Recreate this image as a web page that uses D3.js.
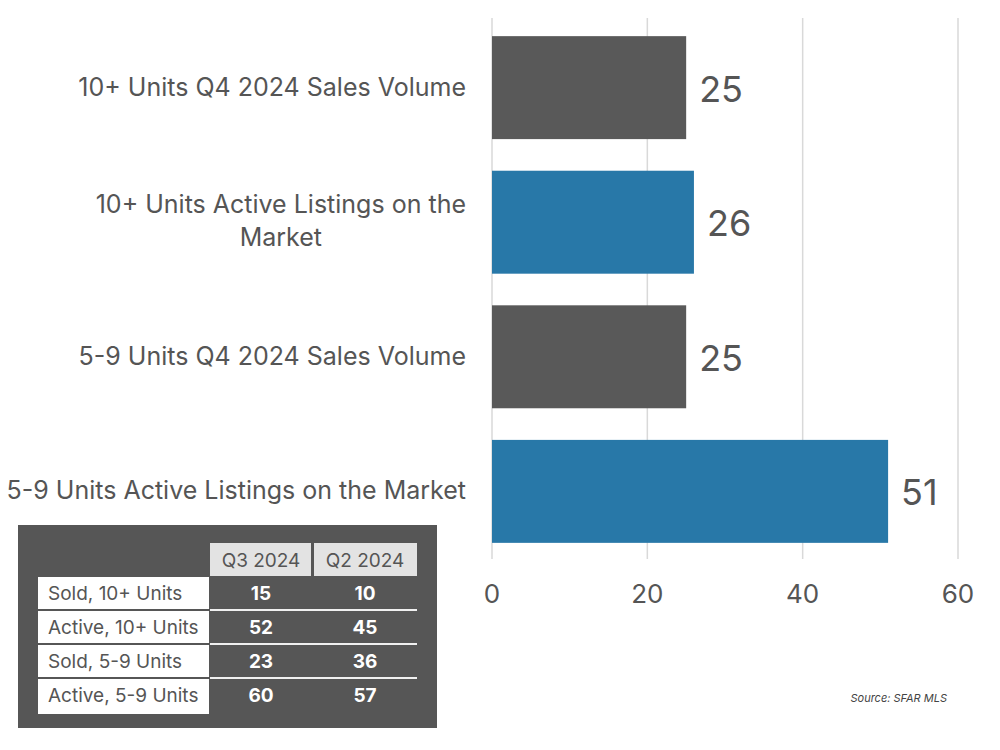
<!DOCTYPE html>
<html>
<head>
<meta charset="utf-8">
<script src="https://cdn.jsdelivr.net/npm/d3@7"></script>
<style>
  body { margin: 0; background: #fff; }
  svg text { font-family: "Inter", "Roboto", sans-serif; }
</style>
</head>
<body>
<svg id="chart" width="1000" height="750"></svg>
<script>
// bar chart data
var categories = [
    ["10+ Units Q4 2024 Sales Volume"],
    ["10+ Units Active Listings on the", "Market"],
    ["5-9 Units Q4 2024 Sales Volume"],
    ["5-9 Units Active Listings on the Market"]
];
var values = [25, 26, 25, 51];
var barColors = ["#595959", "#2878a8", "#595959", "#2878a8"];
var xTicks = [0, 20, 40, 60];

// comparison table data
var tableHeaders = ["Q3 2024", "Q2 2024"];
var tableRows = ["Sold, 10+ Units", "Active, 10+ Units", "Sold, 5-9 Units", "Active, 5-9 Units"];
var q3Values = [15, 52, 23, 60];
var q2Values = [10, 45, 36, 57];

var svg = d3.select("#chart");
var textColor = "#555555";

var x = d3.scaleLinear().domain([0, 60]).range([492, 958]);
var y = d3.scaleBand()
    .domain(d3.range(values.length))
    .range([20, 559])
    .paddingInner(0.235)
    .paddingOuter(0.12);

// gridlines
svg.append("g").selectAll("line")
    .data(xTicks)
    .join("line")
    .attr("x1", function(d) { return x(d); })
    .attr("x2", function(d) { return x(d); })
    .attr("y1", 18)
    .attr("y2", 559)
    .attr("stroke", "#d9d9d9")
    .attr("stroke-width", 1.5);

// tick labels
svg.append("g").selectAll("text")
    .data(xTicks)
    .join("text")
    .attr("x", function(d) { return x(d); })
    .attr("y", 603)
    .attr("text-anchor", "middle")
    .attr("font-size", 26)
    .attr("fill", textColor)
    .text(function(d) { return d; });

// bars
svg.append("g").selectAll("rect")
    .data(values)
    .join("rect")
    .attr("x", x(0))
    .attr("y", function(d, i) { return y(i); })
    .attr("width", function(d) { return x(d) - x(0); })
    .attr("height", y.bandwidth())
    .attr("fill", function(d, i) { return barColors[i]; });

// value labels
svg.append("g").selectAll("text")
    .data(values)
    .join("text")
    .attr("x", function(d) { return x(d) + 13; })
    .attr("y", function(d, i) { return y(i) + y.bandwidth() / 2 + 14; })
    .attr("font-size", 36)
    .attr("fill", textColor)
    .text(function(d) { return d; });

// category labels (wrapped lines centred under the first)
var labels = svg.append("g").selectAll("text")
    .data(categories)
    .join("text")
    .attr("font-size", 25)
    .attr("fill", textColor)
    .attr("text-anchor", function(d) { return d.length > 1 ? "middle" : "end"; })
    .attr("y", function(d, i) {
        var mid = y(i) + y.bandwidth() / 2;
        return mid + 8 - (d.length - 1) * 17;
    });
labels.each(function(d) {
    var t = d3.select(this);
    d.forEach(function(line, k) {
        t.append("tspan")
            .attr("x", 466)
            .attr("dy", k === 0 ? 0 : 33)
            .text(line);
    });
    if (d.length > 1) {
        // centre the block so the longest line ends at 466
        var first = t.select("tspan").node().getComputedTextLength();
        t.selectAll("tspan").attr("x", 466 - first / 2);
    }
});

// table
var tbl = svg.append("g");
tbl.append("rect")
    .attr("x", 18).attr("y", 525)
    .attr("width", 419).attr("height", 203)
    .attr("fill", "#565656");

var colX = [210, 314];
var colW = 102;
tbl.selectAll("rect.hdr")
    .data(tableHeaders)
    .join("rect")
    .attr("class", "hdr")
    .attr("x", function(d, i) { return colX[i]; })
    .attr("y", 543)
    .attr("width", function(d, i) { return i === 0 ? 101 : 103; })
    .attr("height", 33)
    .attr("fill", "#e3e3e3");
tbl.selectAll("text.hdr")
    .data(tableHeaders)
    .join("text")
    .attr("class", "hdr")
    .attr("x", function(d, i) { return colX[i] + colW / 2; })
    .attr("y", 567)
    .attr("text-anchor", "middle")
    .attr("font-size", 19)
    .attr("fill", textColor)
    .text(function(d) { return d; });

var rowY = [577, 611, 645, 679];
tbl.selectAll("rect.row")
    .data(tableRows)
    .join("rect")
    .attr("class", "row")
    .attr("x", 38)
    .attr("y", function(d, i) { return rowY[i]; })
    .attr("width", 171)
    .attr("height", function(d, i) { return i === 3 ? 35 : 32; })
    .attr("fill", "#ffffff");
tbl.selectAll("text.row")
    .data(tableRows)
    .join("text")
    .attr("class", "row")
    .attr("x", 48)
    .attr("y", function(d, i) { return rowY[i] + 23; })
    .attr("font-size", 19)
    .attr("fill", textColor)
    .text(function(d) { return d; });

// separators between value rows
tbl.selectAll("line.sep")
    .data(rowY.slice(1))
    .join("line")
    .attr("class", "sep")
    .attr("x1", 210).attr("x2", 417)
    .attr("y1", function(d) { return d - 1; })
    .attr("y2", function(d) { return d - 1; })
    .attr("stroke", "#f0f0f0")
    .attr("stroke-width", 2);

[q3Values, q2Values].forEach(function(col, c) {
    tbl.append("g").selectAll("text")
        .data(col)
        .join("text")
        .attr("x", colX[c] + colW / 2)
        .attr("y", function(d, i) { return rowY[i] + 23; })
        .attr("text-anchor", "middle")
        .attr("font-size", 19)
        .attr("font-weight", "bold")
        .attr("fill", "#ffffff")
        .text(function(d) { return d; });
});

// source note
svg.append("text")
    .attr("x", 947)
    .attr("y", 702)
    .attr("text-anchor", "end")
    .attr("font-size", 11)
    .attr("font-style", "italic")
    .attr("fill", "#444")
    .text("Source: SFAR MLS");
</script>
</body>
</html>
